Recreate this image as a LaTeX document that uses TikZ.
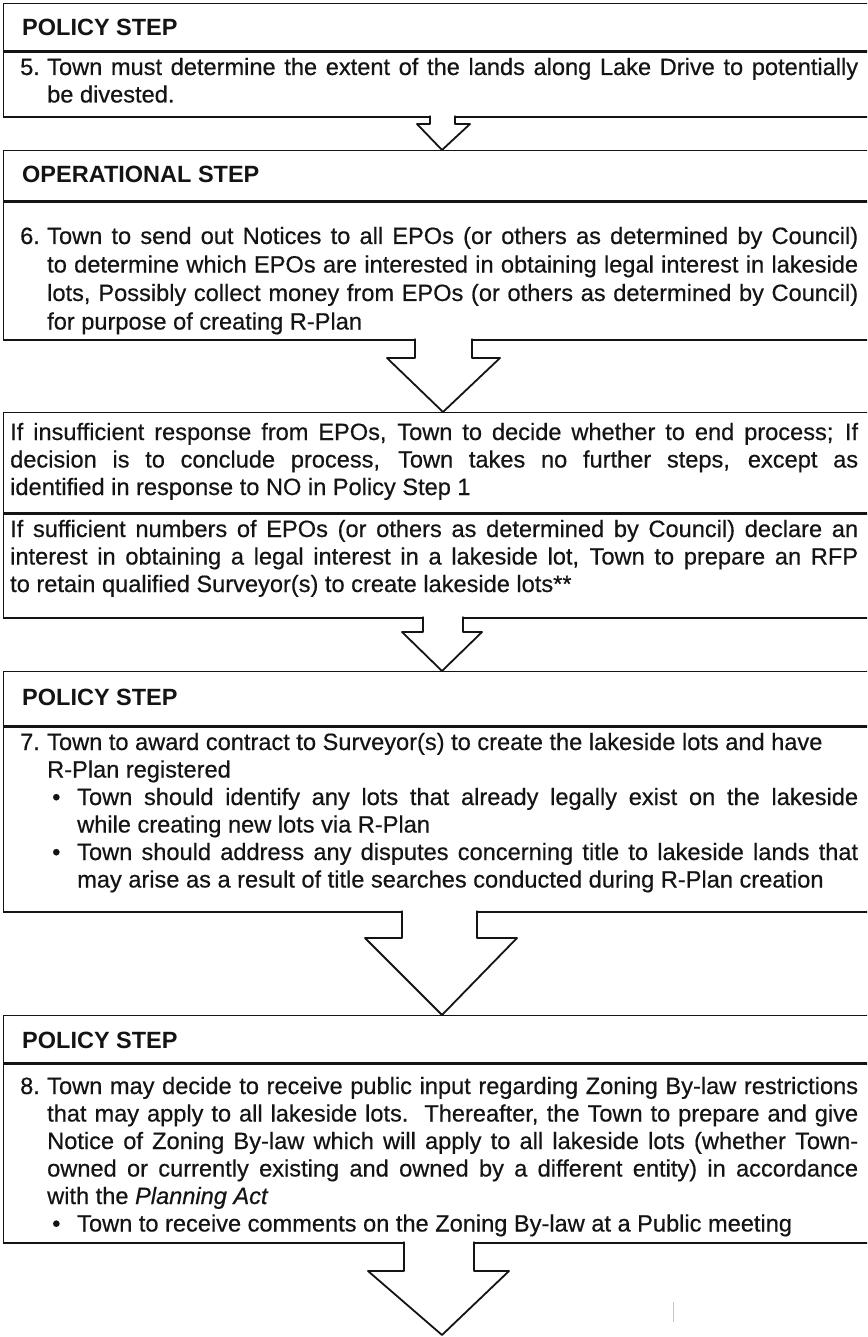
\documentclass[tikz,border=0pt]{standalone}
\usepackage{fontspec}
\setmainfont{Liberation Sans}[UprightFeatures={FakeBold=0.5},ItalicFeatures={FakeBold=0.5}]
\usepackage{tikz}
\usetikzlibrary{calc}
\definecolor{Ink}{HTML}{141414}
\definecolor{Smudge}{HTML}{C4C4C4}
\setlength{\parindent}{0pt}
\tolerance=10000
\hbadness=10000
\hyphenpenalty=10000
\tikzset{
  frame/.style={draw=Ink,line width=1.3pt,minimum width=867pt,anchor=north west,inner sep=0pt},
  head/.style={anchor=west,inner sep=0pt,text=Ink,font=\fontsize{23.5}{27}\selectfont\bfseries},
  body/.style={anchor=base west,inner sep=0pt,text=Ink,align=justify,font=\fontsize{23.6}{27.5}\selectfont},
  blk/.style={draw=Ink,fill=white,line width=1.8pt,line join=round}
}
\newcommand{\num}[1]{\hangindent=27pt\hangafter=1\makebox[27pt][l]{#1}}
\newcommand{\blt}{\hangindent=57pt\hangafter=1\hspace*{32pt}\makebox[25pt][l]{\textbullet}}

\begin{document}
\begin{tikzpicture}[x=1pt,y=-1pt]
     \clip (0,0) rectangle (867,1337);
     \fill[white] (0,0) rectangle (867,1337);

     \node[frame,minimum height=47pt] (f5h) at (3,3) {};
     \node[frame,minimum height=65pt] (f5b) at (f5h.south west) {};
     \node[head] (t5h) at (22,27) {POLICY STEP};
     \node[body,text width=838pt] (t5b) at (20,75) {\num{5.}Town must determine the extent of the lands along Lake Drive to potentially\linebreak be divested.\par};

     \node[frame,minimum height=50pt] (f6h) at (3,150) {};
     \node[frame,minimum height=138pt] (f6b) at (f6h.south west) {};
     \node[head] (t6h) at (22,174) {OPERATIONAL STEP};
     \node[body,text width=838pt,font=\fontsize{23.6}{28.5}\selectfont] (t6b) at (20,244) {\num{6.}Town to send out Notices to all EPOs (or others as determined by Council)\linebreak to determine which EPOs are interested in obtaining legal interest in lakeside\linebreak lots, Possibly collect money from EPOs (or others as determined by Council)\linebreak for purpose of creating R-Plan\par};

     \node[frame,minimum height=100pt] (fno) at (3,412) {};
     \node[body,text width=848pt] (tno) at (10,440) {If insufficient response from EPOs, Town to decide whether to end process; If\linebreak decision is to conclude process, Town takes no further steps, except as\linebreak identified in response to NO in Policy Step 1\par};

     \node[frame,minimum height=104pt] (fyes) at (fno.south west) {};
     \node[body,text width=848pt] (tyes) at (10,537) {If sufficient numbers of EPOs (or others as determined by Council) declare an\linebreak interest in obtaining a legal interest in a lakeside lot, Town to prepare an RFP\linebreak to retain qualified Surveyor(s) to create lakeside lots**\par};

     \node[frame,minimum height=54pt] (f7h) at (3,671) {};
     \node[frame,minimum height=185pt] (f7b) at (f7h.south west) {};
     \node[head] (t7h) at (22,697) {POLICY STEP};
     \node[body,text width=838pt] (t7b) at (20,750) {\num{7.}Town to award contract to Surveyor(s) to create the lakeside lots and have\newline R-Plan registered\par
       \blt Town should identify any lots that already legally exist on the lakeside\linebreak while creating new lots via R-Plan\par
       \blt Town should address any disputes concerning title to lakeside lands that\linebreak may arise as a result of title searches conducted during R-Plan creation\par};

     \node[frame,minimum height=47pt] (f8h) at (3,1015) {};
     \node[frame,minimum height=179pt] (f8b) at (f8h.south west) {};
     \node[head] (t8h) at (22,1040) {POLICY STEP};
     \node[body,text width=838pt] (t8b) at (20,1094) {\num{8.}Town may decide to receive public input regarding Zoning By-law restrictions\linebreak that may apply to all lakeside lots.\ \ Thereafter, the Town to prepare and give\linebreak Notice of Zoning By-law which will apply to all lakeside lots (whether Town-\linebreak owned or currently existing and owned by a different entity) in accordance\linebreak with the \textit{Planning Act}\par
       \blt Town to receive comments on the Zoning By-law at a Public meeting\par};
     \coordinate (end8) at (442,1335);

     \filldraw[blk] ($(430,0 |- f5b.south)+(0,-2)$) |- (417,124) -- (442,0 |- f6h.north) -- (470,124) -| ($(455,0 |- f5b.south)+(0,-2)$);
     \filldraw[blk] ($(415,0 |- f6b.south)+(0,-2)$) |- (387,358) -- (443,0 |- fno.north) -- (500,358) -| ($(472,0 |- f6b.south)+(0,-2)$);
     \filldraw[blk] ($(423,0 |- fyes.south)+(0,-2)$) |- (402,632) -- (442,0 |- f7h.north) -- (482,632) -| ($(463,0 |- fyes.south)+(0,-2)$);
     \filldraw[blk] ($(402,0 |- f7b.south)+(0,-2)$) |- (365,938) -- (442,0 |- f8h.north) -- (517,938) -| ($(477,0 |- f7b.south)+(0,-2)$);
     \filldraw[blk] ($(404,0 |- f8b.south)+(0,-2)$) |- (368,1271) -- (end8) -- (509,1271) -| ($(474,0 |- f8b.south)+(0,-2)$);

     \draw[Smudge,line width=0.7pt] (673,1302) -- (673,1322);
\end{tikzpicture}
\end{document}
